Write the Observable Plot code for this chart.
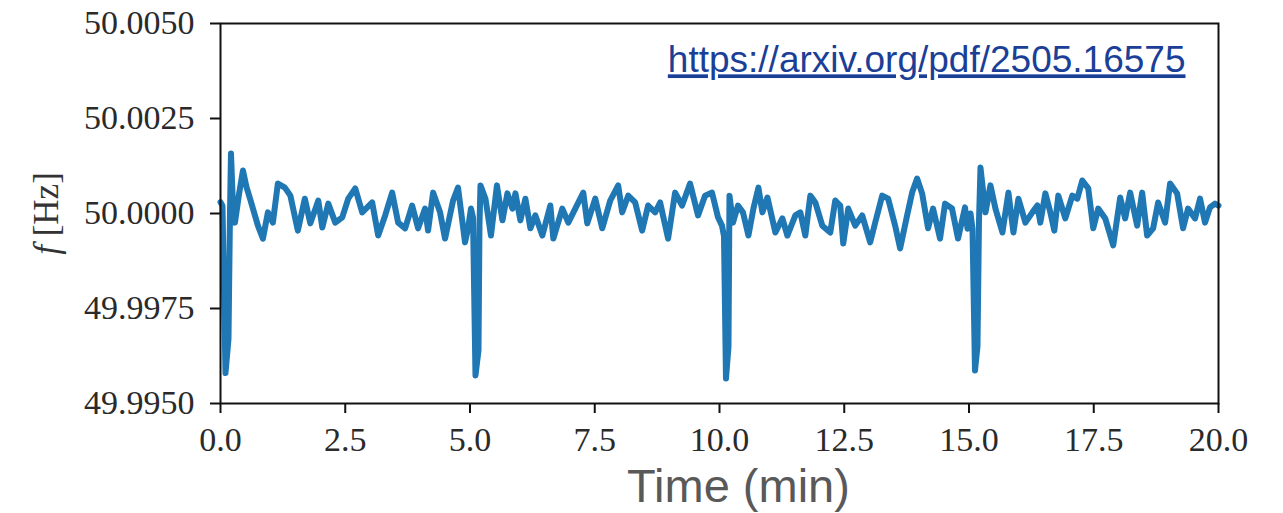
<!DOCTYPE html>
<html>
<head>
<meta charset="utf-8">
<script src="https://cdn.jsdelivr.net/npm/d3@7"></script>
<script src="https://cdn.jsdelivr.net/npm/@observablehq/plot@0.6"></script>
<style>
  html, body { margin: 0; padding: 0; background: #fff; }
  #chart { width: 1283px; height: 513px; }
</style>
</head>
<body>
<div id="chart"></div>
<script>
// Time in minutes
const timeMin = [
  0.00, 0.04, 0.10, 0.16, 0.19, 0.21, 0.25, 0.29, 0.37, 0.45, 0.52, 0.59, 0.75, 0.85, 0.95,
  1.05, 1.15, 1.29, 1.40, 1.55, 1.69, 1.80, 1.96, 2.04, 2.16, 2.30, 2.44, 2.56, 2.70, 2.84,
  3.04, 3.16, 3.30, 3.44, 3.56, 3.70, 3.84, 3.96, 4.10, 4.16, 4.26, 4.40, 4.50, 4.66, 4.76,
  4.90, 4.96, 5.02, 5.06, 5.11, 5.17, 5.19, 5.21, 5.31, 5.42, 5.54, 5.65, 5.75, 5.85, 5.91,
  6.01, 6.11, 6.21, 6.31, 6.45, 6.61, 6.67, 6.85, 6.97, 7.11, 7.27, 7.35, 7.51, 7.65, 7.81,
  7.97, 8.05, 8.17, 8.31, 8.45, 8.57, 8.71, 8.81, 8.97, 9.11, 9.25, 9.41, 9.57, 9.71, 9.85,
  9.97, 10.05, 10.09, 10.13, 10.18, 10.20, 10.27, 10.37, 10.47, 10.58, 10.68, 10.78, 10.86, 10.96,
  11.12, 11.26, 11.36, 11.52, 11.62, 11.72, 11.82, 11.92, 12.06, 12.22, 12.32, 12.42, 12.48, 12.58,
  12.72, 12.86, 13.02, 13.12, 13.26, 13.38, 13.52, 13.62, 13.76, 13.86, 13.96, 14.06, 14.18, 14.28,
  14.42, 14.52, 14.66, 14.78, 14.92, 14.97, 15.03, 15.07, 15.12, 15.17, 15.20, 15.23, 15.33, 15.43,
  15.53, 15.67, 15.79, 15.89, 15.99, 16.13, 16.27, 16.37, 16.43, 16.53, 16.63, 16.71, 16.79, 16.93,
  17.07, 17.17, 17.27, 17.39, 17.49, 17.59, 17.73, 17.89, 18.03, 18.13, 18.23, 18.37, 18.47, 18.57,
  18.69, 18.79, 18.93, 19.03, 19.17, 19.29, 19.39, 19.53, 19.63, 19.73, 19.83, 19.93, 20.00
];
// Frequency in Hz
const freqHz = [
  50.00030, 50.00020, 49.99580, 49.99670, 50.00000, 50.00158, 50.00020, 49.99976, 50.00050, 50.00113, 50.00070, 50.00040, 49.99968, 49.99934, 50.00003,
  49.99976, 50.00079, 50.00068, 50.00047, 49.99955, 50.00039, 49.99974, 50.00034, 49.99963, 50.00026, 49.99976, 49.99990, 50.00039, 50.00066, 50.00003,
  50.00029, 49.99942, 49.99995, 50.00055, 49.99976, 49.99961, 50.00021, 49.99961, 50.00013, 49.99955, 50.00055, 50.00003, 49.99934, 50.00034, 50.00068,
  49.99924, 49.99960, 50.00013, 49.99990, 49.99574, 49.99640, 49.99970, 50.00074, 50.00039, 49.99942, 50.00074, 49.99982, 50.00053, 50.00013, 50.00053,
  49.99982, 50.00039, 49.99961, 49.99995, 49.99942, 50.00021, 49.99934, 50.00013, 49.99976, 50.00013, 50.00055, 49.99974, 50.00039, 49.99961, 50.00034,
  50.00074, 50.00003, 50.00047, 50.00029, 49.99955, 50.00021, 50.00003, 50.00029, 49.99934, 50.00055, 50.00021, 50.00079, 49.99995, 50.00047, 50.00055,
  49.99990, 49.99968, 49.99940, 49.99566, 49.99650, 50.00047, 49.99976, 50.00021, 50.00003, 49.99942, 50.00013, 50.00068, 50.00003, 50.00042,
  49.99950, 49.99987, 49.99942, 49.99995, 50.00003, 49.99942, 50.00047, 50.00029, 49.99968, 49.99950, 50.00034, 50.00021, 49.99921, 50.00013,
  49.99968, 49.99995, 49.99924, 49.99976, 50.00047, 50.00039, 49.99968, 49.99908, 49.99995, 50.00055, 50.00092, 50.00053, 49.99961, 50.00013,
  49.99934, 50.00026, 50.00013, 49.99934, 50.00016, 49.99960, 50.00000, 49.99960, 49.99587, 49.99650, 49.99980, 50.00121, 50.00003, 50.00074,
  50.00013, 49.99950, 50.00055, 49.99950, 50.00039, 49.99976, 50.00003, 50.00021, 49.99976, 50.00053, 50.00003, 49.99955, 50.00047, 49.99987,
  50.00047, 50.00039, 50.00087, 50.00066, 49.99961, 50.00013, 49.99987, 49.99916, 50.00042, 49.99987, 50.00055, 49.99968, 50.00055, 49.99942,
  49.99961, 50.00029, 49.99976, 50.00079, 50.00053, 49.99961, 50.00013, 49.99987, 50.00039, 49.99976, 50.00016, 50.00026, 50.00021
];
const xTicks = [0, 2.5, 5, 7.5, 10, 12.5, 15, 17.5, 20];
const yTicks = [49.995, 49.9975, 50.0, 50.0025, 50.005];
const xLabel = ["Time (min)"];
const yLabel = ["f [Hz]"];
const sourceNote = ["https://arxiv.org/pdf/2505.16575"];

const data = timeMin.map((t, i) => ({t, f: freqHz[i]}));

const plot = Plot.plot({
  width: 1283,
  height: 513,
  marginLeft: 220,
  marginRight: 65,
  marginTop: 23,
  marginBottom: 110,
  style: {fontFamily: "Liberation Serif", fontSize: "34px", color: "#2a2a2a", background: "#fff", overflow: "visible"},
  x: {domain: [0, 20]},
  y: {domain: [49.995, 50.005]},
  marks: [
    Plot.line(data, {x: "t", y: "f", stroke: "#1f77b4", strokeWidth: 6, strokeLinejoin: "round", strokeLinecap: "round"}),
    Plot.frame({stroke: "#111", strokeWidth: 2}),
    Plot.axisX({ticks: xTicks, tickFormat: d => d.toFixed(1), tickSize: 10, tickPadding: 13, strokeWidth: 2, stroke: "#111", label: null, fontSize: 34}),
    Plot.axisY({ticks: yTicks, tickFormat: d => d.toFixed(4), tickSize: 10, tickPadding: 16, strokeWidth: 2, stroke: "#111", label: null, fontSize: 34}),
    Plot.text(xLabel, {frameAnchor: "bottom", lineAnchor: "middle", dx: 19, dy: 83, fontFamily: "Liberation Sans", fontSize: 47, fill: "#595959", textAnchor: "middle"}),
    Plot.text(yLabel, {frameAnchor: "left", lineAnchor: "middle", dx: -174, rotate: -90, fontFamily: "Liberation Serif", fontSize: 35, fill: "#333", textAnchor: "middle"}),
    Plot.text(sourceNote, {frameAnchor: "top-right", lineAnchor: "middle", dx: -33, dy: 37, fontFamily: "Liberation Sans", fontSize: 37, fill: "#1b3f97", textAnchor: "end"})
  ]
});

document.getElementById("chart").appendChild(plot);

// styling touches: underline the link, italic f
d3.select(plot).selectAll("text").each(function() {
  const el = d3.select(this);
  const txt = this.textContent;
  if (txt === sourceNote[0]) {
    el.style("text-decoration", "underline");
  } else if (txt === yLabel[0]) {
    el.text(null);
    el.append("tspan").attr("font-style", "italic").text("f");
    el.append("tspan").text(" [Hz]");
  }
});
</script>
</body>
</html>
